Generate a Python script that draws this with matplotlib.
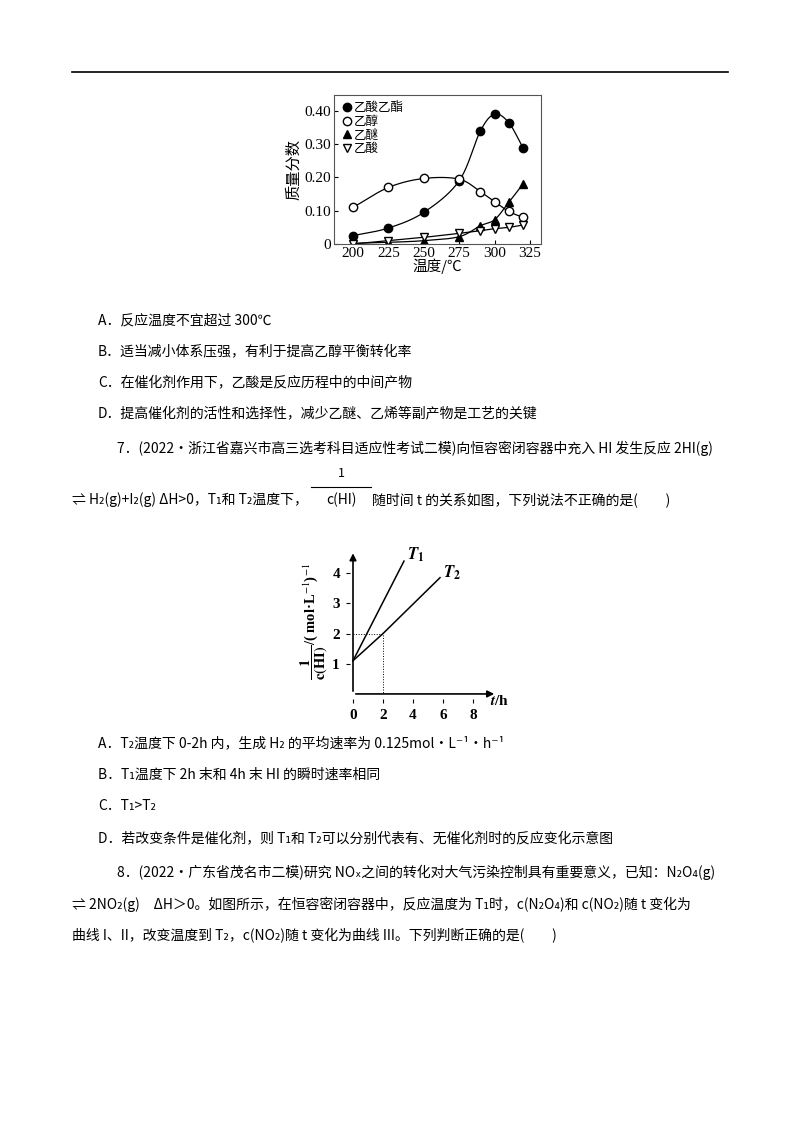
import numpy as np
import matplotlib
matplotlib.use('Agg')
import matplotlib.pyplot as plt

plt.rcParams['font.family'] = ['Noto Sans CJK SC', 'DejaVu Sans']
plt.rcParams['mathtext.fontset'] = 'stix'

W, H = 800, 1132

# chart 1 data
temps = [200, 225, 250, 275, 290, 300, 310, 320]
ester = [0.025, 0.048, 0.095, 0.19, 0.34, 0.39, 0.365, 0.29]
ethanol = [0.11, 0.17, 0.197, 0.195, 0.157, 0.127, 0.098, 0.08]
ether = [0.002, 0.005, 0.01, 0.022, 0.055, 0.073, 0.125, 0.18]
acid = [0.0, 0.01, 0.02, 0.032, 0.04, 0.046, 0.05, 0.057]
names1 = ['乙酸乙酯', '乙醇', '乙醚', '乙酸']
xticks1 = [200, 225, 250, 275, 300, 325]
yticks1 = [0, 0.10, 0.20, 0.30, 0.40]
ylabels1 = ['0', '0.10', '0.20', '0.30', '0.40']

# chart 2 data
t1_t = [0, 3.4]
t1_v = [1.1, 4.4]
t2_t = [0, 2, 5.8]
t2_v = [1.1, 2.0, 3.85]
xticks2 = [0, 2, 4, 6, 8]
yticks2 = [1, 2, 3, 4]

fig = plt.figure(figsize=(8, 11.32), dpi=100)


def px_rect(l, t, r, b):
    return [l / W, 1 - b / H, (r - l) / W, (b - t) / H]


def txt(x, y, s, **kw):
    kw.setdefault('fontsize', 10)
    fig.text(x / W, 1 - y / H, s, ha=kw.pop('ha', 'left'), va=kw.pop('va', 'center'), **kw)


def smooth(x, y, n=30):
    # catmull-rom curve through the points
    x = np.asarray(x, float)
    y = np.asarray(y, float)
    px = np.concatenate([[2 * x[0] - x[1]], x, [2 * x[-1] - x[-2]]])
    py = np.concatenate([[2 * y[0] - y[1]], y, [2 * y[-1] - y[-2]]])
    ox, oy = [], []
    s = np.linspace(0, 1, n)
    for i in range(1, len(px) - 2):
        for arr, out in ((px, ox), (py, oy)):
            p0, p1, p2, p3 = arr[i - 1:i + 3]
            out.extend(0.5 * (2 * p1 + (-p0 + p2) * s + (2 * p0 - 5 * p1 + 4 * p2 - p3) * s ** 2
                              + (-p0 + 3 * p1 - 3 * p2 + p3) * s ** 3))
    return ox, oy


fig.add_artist(plt.Line2D([72 / W, 728 / W], [1 - 72 / H] * 2, color='black', lw=1.2))

# ---- chart 1
serif = ['Liberation Serif', 'DejaVu Serif']
ax = fig.add_axes(px_rect(334, 95, 541, 244))
ax.set_xlim(186.6, 332.8)
ax.set_ylim(0, 0.448)
series = [(ester, 'o', 'black'), (ethanol, 'o', 'white'), (ether, '^', 'black'), (acid, 'v', 'white')]
for (vals, m, fc), nm in zip(series, names1):
    sx, sy = smooth(temps, vals)
    ax.plot(sx, sy, color='black', lw=0.9)
    ax.plot(temps, vals, ls='', marker=m, ms=6, mfc=fc, mec='black', mew=1, label=nm)
ax.set_xticks(xticks1)
ax.set_yticks(yticks1)
ax.set_yticklabels(ylabels1)
for lab in ax.get_xticklabels() + ax.get_yticklabels():
    lab.set_family(serif)
    lab.set_fontsize(11)
ax.tick_params(direction='in', length=3, pad=2)
for s in ax.spines.values():
    s.set_color('#555555')
ax.set_xlabel('温度/℃', fontsize=10.5, labelpad=-1)
ax.set_ylabel('质量分数', fontsize=11, labelpad=2)
ax.legend(loc='upper left', frameon=False, fontsize=9, handletextpad=0.1, labelspacing=0.05,
          borderaxespad=0.1, handlelength=1)

# ---- text block 1
txt(98, 320, 'A．反应温度不宜超过 300℃')
txt(98, 352, 'B．适当减小体系压强，有利于提高乙醇平衡转化率')
txt(98, 383, 'C．在催化剂作用下，乙酸是反应历程中的中间产物')
txt(98, 414, 'D．提高催化剂的活性和选择性，减少乙醚、乙烯等副产物是工艺的关键')
txt(117, 448, '7．(2022·浙江省嘉兴市高三选考科目适应性考试二模)向恒容密闭容器中充入 HI 发生反应 2HI(g)')
txt(72, 500, '⇌ H₂(g)+I₂(g) ΔH>0，T₁和 T₂温度下，')
txt(341, 473, '1', ha='center', fontsize=9)
fig.add_artist(plt.Line2D([311 / W, 371 / W], [1 - 487 / H] * 2, color='black', lw=0.8))
txt(341, 500, 'c(HI)', ha='center')
txt(372, 500, '随时间 t 的关系如图，下列说法不正确的是(　　)')

# ---- chart 2
ax2 = fig.add_axes(px_rect(345.5, 549, 500, 703))
ax2.set_xlim(-0.5, 9.8)
ax2.set_ylim(-0.3, 4.8)
for s in ax2.spines.values():
    s.set_visible(False)
ax2.annotate('', xy=(9.6, 0), xytext=(0, 0),
             arrowprops=dict(arrowstyle='-|>', color='black', lw=1.2, mutation_scale=10))
ax2.annotate('', xy=(0, 4.75), xytext=(0, 0),
             arrowprops=dict(arrowstyle='-|>', color='black', lw=1.2, mutation_scale=10))
ax2.plot(t1_t, t1_v, color='black', lw=1.1)
ax2.plot(t2_t, t2_v, color='black', lw=1.1)
ax2.plot([0, 2, 2], [2, 2, 0], color='black', lw=0.7, ls=':')
ax2.set_xticks(xticks2)
ax2.set_yticks(yticks2)
ax2.tick_params(length=3, direction='in', pad=4)
for lab in ax2.get_xticklabels() + ax2.get_yticklabels():
    lab.set_family(serif)
    lab.set_fontweight('bold')
    lab.set_fontsize(11)
ax2.text(3.6, 4.45, '$\\boldsymbol{T}_\\mathbf{1}$', fontsize=12)
ax2.text(6.0, 3.85, '$\\boldsymbol{T}_\\mathbf{2}$', fontsize=12)
ax2.text(9.1, -0.35, '$\\boldsymbol{t}$/h', fontsize=11, fontweight='bold', family=serif)
ax2.text(-2.6, 2.4, '$\\mathbf{\\dfrac{1}{c(HI)}}$/( mol·L$^{-1}$)$^{-1}$', rotation=90,
         ha='center', va='center', fontsize=10.5, fontweight='bold', family=serif)

# ---- text block 2
txt(98, 743, 'A．T₂温度下 0-2h 内，生成 H₂ 的平均速率为 0.125mol·L⁻¹·h⁻¹')
txt(98, 775, 'B．T₁温度下 2h 末和 4h 末 HI 的瞬时速率相同')
txt(98, 806, 'C．T₁>T₂')
txt(98, 839, 'D．若改变条件是催化剂，则 T₁和 T₂可以分别代表有、无催化剂时的反应变化示意图')
txt(117, 872, '8．(2022·广东省茂名市二模)研究 NOₓ之间的转化对大气污染控制具有重要意义，已知：N₂O₄(g)')
txt(72, 904, '⇌ 2NO₂(g)　ΔH＞0。如图所示，在恒容密闭容器中，反应温度为 T₁时，c(N₂O₄)和 c(NO₂)随 t 变化为')
txt(72, 936, '曲线 I、II，改变温度到 T₂，c(NO₂)随 t 变化为曲线 III。下列判断正确的是(　　)')

fig.savefig('out.png', dpi=100)
